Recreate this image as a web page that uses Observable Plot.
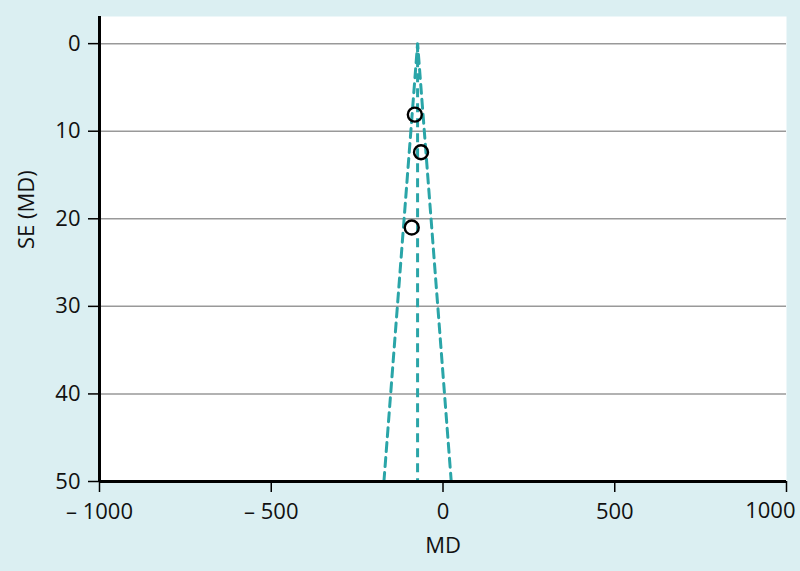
<!DOCTYPE html>
<html>
<head>
<meta charset="utf-8">
<script src="https://cdn.jsdelivr.net/npm/d3@7"></script>
<script src="https://cdn.jsdelivr.net/npm/@observablehq/plot@0.6"></script>
<style>
  html, body { margin: 0; padding: 0; background: #dbeff2; }
  #chart svg { display: block; }
</style>
</head>
<body>
<div id="chart"></div>
<script>
// Study data
const studies = ["Study 1", "Study 2", "Study 3"];
const md = [-82, -64, -91];
const se = [8.1, 12.4, 21.0];

// Pooled estimate and funnel extent
const pooled = [-74];
const seMax = [50];
const z = [1.96];

// Axis ticks
const xTicks = [-1000, -500, 0, 500, 1000];
const yTicks = [0, 10, 20, 30, 40, 50];
const gridTicks = [0, 10, 20, 30, 40];

const points = studies.map((s, i) => ({study: s, md: md[i], se: se[i]}));
const funnel = [
  {x: pooled[0] - z[0] * seMax[0], y: seMax[0]},
  {x: pooled[0], y: 0},
  {x: pooled[0] + z[0] * seMax[0], y: seMax[0]}
];

const teal = "#2aa5a8";
const font = "'Open Sans', 'Noto Sans', sans-serif";
const fmt = d => d < 0 ? "\u2013 " + Math.abs(d) : String(d);
const lastX = xTicks[xTicks.length - 1];

const chart = Plot.plot({
  width: 800,
  height: 571,
  marginLeft: 99,
  marginRight: 14,
  marginTop: 16,
  marginBottom: 90,
  style: {background: "#dbeff2", fontFamily: font, fontSize: "22px", color: "#111"},
  x: {domain: [-1000, 1000]},
  y: {domain: [-3.1, 50], reverse: true},
  marks: [
    Plot.frame({fill: "white", stroke: null}),
    Plot.ruleY(gridTicks, {stroke: "#999", strokeWidth: 1.5}),
    Plot.line(funnel, {x: "x", y: "y", stroke: teal, strokeWidth: 3, strokeDasharray: "9,6"}),
    Plot.ruleX(pooled, {y1: 0, y2: seMax[0], stroke: teal, strokeWidth: 3, strokeDasharray: "9,6"}),
    Plot.dot(points, {x: "md", y: "se", r: 7, stroke: "black", strokeWidth: 2.4, fill: "none"}),
    Plot.axisX({ticks: xTicks, tickSize: 11, tickPadding: 11, label: null,
      tickFormat: d => d === lastX ? "" : fmt(d),
      stroke: "black", strokeWidth: 1.5, fontSize: 22}),
    Plot.text([lastX], {x: d => d, frameAnchor: "bottom", lineAnchor: "top", dy: 21,
      textAnchor: "end", dx: 9, text: d => fmt(d), fontSize: 22, fill: "#111"}),
    Plot.axisY({ticks: yTicks, tickSize: 11, tickPadding: 8, label: null,
      stroke: "black", strokeWidth: 1.5, fontSize: 22}),
    Plot.ruleY([50], {stroke: "black", strokeWidth: 3}),
    Plot.ruleX([-1000], {stroke: "black", strokeWidth: 3}),
    Plot.text(["MD"], {frameAnchor: "bottom", lineAnchor: "top", dy: 56, fontSize: 22, fill: "#111"}),
    Plot.text(["SE (MD)"], {frameAnchor: "left", dx: -73, rotate: -90, fontSize: 22, fill: "#111"})
  ]
});
document.getElementById("chart").appendChild(chart);
</script>
</body>
</html>
